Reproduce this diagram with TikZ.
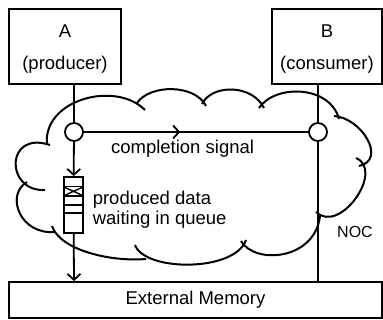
\documentclass[tikz,border=0pt]{standalone}
\usepackage{fontspec}
\setmainfont{Liberation Sans}
\usetikzlibrary{arrows.meta, positioning, decorations.markings}

\begin{document}
\begin{tikzpicture}[x=1pt,y=-1pt,line width=1.8pt,font=\fontsize{18.5}{20}\selectfont]
  \tikzstyle{unit}=[draw,rectangle,minimum height=75pt,inner sep=0pt,align=center]
  \tikzstyle{tap}=[draw,circle,fill=white,minimum size=18pt,inner sep=0pt]
  \tikzstyle{tip}=[-{Straight Barb[length=6pt,width=13pt]}]
  \tikzstyle{mid tip}=[postaction={decorate},decoration={markings,
      mark=at position 0.43 with {\arrow{Straight Barb[length=6pt,width=13pt]}}}]
  \tikzstyle{bump}=[line width=2pt]

  \useasboundingbox (0,0) rectangle (383,320);

  % cloud (NOC)
  \draw[bump] (47,145) .. controls (42,100) and (115,80) .. (145,110);
  \draw[bump] (137,103) .. controls (150,84) and (195,84) .. (206,106);
  \draw[bump] (202,104) .. controls (212,84) and (252,84) .. (264,108);
  \draw[bump] (259,108) .. controls (275,84) and (330,85) .. (339,119);
  \draw[bump] (334,116) .. controls (362,118) and (387,160) .. (359,166);
  \draw[bump] (356,158) .. controls (385,170) and (340,235) .. (316,212);
  \draw[bump] (320,216) .. controls (315,260) and (255,265) .. (241,241);
  \draw[bump] (246,240) .. controls (235,272) and (145,272) .. (135,245);
  \draw[bump] (146,259) .. controls (110,262) and (60,250) .. (52,226);
  \draw[bump] (55,232) .. controls (20,235) and (5,195) .. (27,182);
  \draw[bump] (45,190) .. controls (5,192) and (5,130) .. (50,145);

  % units and memory
  \node[unit,minimum width=112pt] (A) at (65,46.5) {\rule{0pt}{18pt}A\\[12.5pt](producer)};
  \node[unit,minimum width=110pt] (B) at (327,46.5) {\rule{0pt}{18pt}B\\[12.5pt](consumer)};
  \node[draw,rectangle,minimum width=373pt,minimum height=36pt] (mem) at (195.5,300) {External Memory};

  % network taps
  \node[tap] (cA) at (74,132) {};
  \node[tap] (cB) at (318,132) {};

  % queue
  \node[draw,rectangle,fill=white,minimum width=19pt,minimum height=56pt,inner sep=0pt] (queue) at (73.5,205) {};
  \foreach \d in {10.5,20,29,37}
    \draw ([yshift=-\d pt]queue.north west) -- ([yshift=-\d pt]queue.north east);
  \draw[line width=1.4pt] ([yshift=-10.5pt]queue.north west) -- ([yshift=-20pt]queue.north east)
                          ([yshift=-20pt]queue.north west) -- ([yshift=-10.5pt]queue.north east);
  \node[right=8pt of queue,inner sep=0pt,align=left,yshift=-5pt] (wait) {produced data\\waiting in queue};

  % connectors
  \draw (A.south -| cA) -- (cA);
  \draw[tip] (cA) -- (queue);
  \draw[tip] (queue) -- (cA |- mem.north);
  \draw (B.south -| cB) -- (cB);
  \draw (cB) -- (cB |- mem.north);
  \draw[mid tip] (cA) -- node[below=4pt,pos=0.44] (sig) {completion signal} (cB);

  \node[font=\fontsize{16}{18}\selectfont] (noc) at (355,232) {NOC};
\end{tikzpicture}
\end{document}
